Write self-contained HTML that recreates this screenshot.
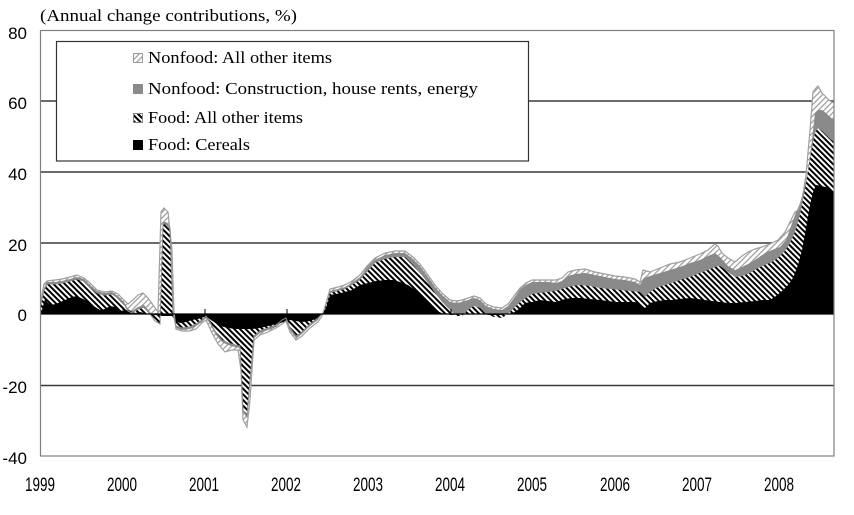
<!DOCTYPE html>
<html>
<head>
<meta charset="utf-8">
<style>
html,body{margin:0;padding:0;background:#fff;}
svg{display:block;}
</style>
</head>
<body>
<svg width="854" height="515" viewBox="0 0 854 515" xmlns="http://www.w3.org/2000/svg">
<defs>
<pattern id="dh" patternUnits="userSpaceOnUse" width="4" height="4" patternTransform="rotate(-45)">
<rect width="4" height="4" fill="#fff"/><rect width="2" height="4" fill="#000"/>
</pattern>
<pattern id="lh" patternUnits="userSpaceOnUse" width="4" height="4" patternTransform="rotate(45)">
<rect width="4" height="4" fill="#fff"/><rect width="1.2" height="4" fill="#9a9a9a"/>
</pattern>
</defs>
<rect width="854" height="515" fill="#fff"/>

<!-- title -->
<text x="40" y="21" font-family="Liberation Serif, serif" font-size="17" textLength="257" lengthAdjust="spacingAndGlyphs" fill="#000">(Annual change contributions, %)</text>

<!-- gridlines -->
<g stroke="#3a3a3a" stroke-width="1.6">
<line x1="40" y1="101" x2="834" y2="101"/>
<line x1="40" y1="172" x2="834" y2="172"/>
<line x1="40" y1="243" x2="834" y2="243"/>
<line x1="40" y1="385.5" x2="834" y2="385.5"/>
</g>

<!-- B4 light hatch: Nonfood all other -->
<polygon fill="url(#lh)" points="41,300 44,284 47,281 55,280 62,279 70,277 77,275 84,278 90,283 97,290 104,292 112,291 118,294 124,300 128,304 133,300 138,295 143,293 148,298 153,305 158,312 161,212 164,208 168,212 172,250 174,312 176,329 182,331 190,331 196,329 202,323 206,320 212,333 218,344 225,352 232,350 238,350 241,370 243,420 247,427 250,400 254,340 260,335 268,332 276,328 282,324 286,321 290,332 296,340 302,336 310,328 318,322 322,316 326,303 330,289 338,287 345,285 352,281 360,275 367,266 375,258 385,253 395,251 405,251 413,257 420,264 428,275 435,285 442,293 450,300 456,301 462,300 468,298 474,296 480,298 486,304 494,307 502,308 508,304 514,296 520,288 526,283 532,280 540,280 548,280 556,280 562,278 568,272 575,270 585,269 595,272 605,274 615,276 625,277 635,279 640,282 643,270 650,272 660,268 670,264 680,262 690,258 700,254 708,250 715,244 718,246 722,253 728,258 735,262 742,256 748,252 755,249 762,247 770,244 778,240 785,232 790,222 795,212 798,210 802,200 806,175 810,130 813,92 816,88 818,86 822,93 826,97 830,101 834,103 834,314 41,314"/>

<!-- B3 grey: Nonfood construction -->
<polygon fill="#8a8a8a" points="41,302 44,288 47,282 55,282 62,281 70,279 77,277 84,279 90,285 97,291 104,293 112,292 118,296 124,302 128,309 132,311 138,307 144,305 150,312 155,319 160,322 163,222 166,222 170,226 173,312 176,328 182,330 190,329 196,326 202,322 206,318 210,324 216,335 222,342 228,345 235,347 240,348 243,412 247,418 250,382 254,338 260,333 268,330 276,327 282,322 286,320 290,330 296,338 302,334 310,326 318,320 322,314 326,304 330,291 338,289 345,287 352,283 360,277 367,268 375,260 385,255 395,253 405,253 413,259 420,266 428,277 435,287 442,295 450,302 456,303 462,302 468,300 474,298 480,300 486,306 494,309 502,310 508,306 514,298 520,290 526,285 532,282 540,282 548,282 556,283 562,281 568,276 575,274 585,273 595,275 605,277 615,279 625,280 635,282 640,285 644,278 650,276 660,273 670,270 680,267 690,263 700,260 708,256 715,253 720,257 728,266 735,270 742,267 750,263 758,258 765,253 772,250 780,247 786,240 790,229 795,215 800,203 805,185 808,170 812,140 815,113 818,110 822,110 826,113 830,117 834,120 834,314 41,314"/>

<!-- B2 dark hatch: Food all other -->
<polygon fill="url(#dh)" points="41,304 44,290 47,284 55,284 62,283 70,281 77,279 84,281 90,287 97,293 104,295 112,294 118,298 124,304 128,311 132,313 138,309 144,307 150,314 155,321 160,324 163,224 166,224 170,228 173,314 176,326 182,328 190,327 196,324 202,320 206,316 210,322 216,333 222,340 228,343 235,345 240,346 243,410 247,416 250,380 254,336 260,331 268,328 276,325 282,320 286,318 290,328 296,336 302,332 310,324 318,318 322,314 326,306 330,293 338,291 345,289 352,285 360,280 367,272 375,263 385,259 395,257 405,257 413,265 420,273 428,283 435,293 442,302 450,310 456,316 462,316 468,310 474,306 480,308 486,314 494,317 502,318 508,314 514,308 520,302 526,298 532,294 540,293 548,292 556,291 565,288 572,286 580,285 590,286 600,288 610,289 620,290 630,291 640,292 645,297 650,292 656,288 665,285 672,283 680,280 690,277 700,273 708,270 715,267 720,266 728,272 735,277 742,276 750,273 758,268 765,265 772,262 778,258 785,251 790,243 795,232 800,215 805,190 808,172 812,148 815,133 818,128 822,131 826,135 830,139 834,142 834,314 41,314"/>

<!-- B1 black: Food cereals -->
<polygon fill="#000" points="41,314 43,306 45,299 48,303 52,305 58,303 65,300 72,297 77,296 85,300 92,305 100,310 105,309 110,306 115,307 122,311 128,310 135,313 140,312 148,314 155,315 162,316 168,316 172,316 176,321 180,323 186,322 192,320 198,319 204,317 208,318 214,322 220,326 228,328 236,329 244,329 252,329 260,328 268,326 276,324 284,322 290,320 296,321 302,322 310,321 318,318 322,314 326,308 330,295 336,294 345,292 352,290 360,285 368,283 376,281 385,280 393,280 400,282 408,285 415,290 422,296 430,305 437,311 444,314 452,315 460,314 470,314 480,314 490,315 500,315 508,314 515,312 520,308 525,303 532,302 540,300 548,301 556,302 565,299 572,298 580,298 590,299 600,300 608,301 615,302 625,302 635,302 640,304 645,308 650,303 658,301 665,300 672,300 680,299 690,298 698,299 705,300 712,301 720,302 728,303 735,303 745,302 755,301 763,300 770,300 776,296 782,291 788,285 793,278 798,265 802,250 806,228 810,205 813,192 816,185 821,186 826,187 830,190 834,192 834,314 41,314"/>

<!-- outlines -->
<polyline fill="none" stroke="#a0a0a0" stroke-width="1.2" points="41,300 44,284 47,281 55,280 62,279 70,277 77,275 84,278 90,283 97,290 104,292 112,291 118,294 124,300 128,304 133,300 138,295 143,293 148,298 153,305 158,312 161,212 164,208 168,212 172,250 174,312 176,329 182,331 190,331 196,329 202,323 206,320 212,333 218,344 225,352 232,350 238,350 241,370 243,420 247,427 250,400 254,340 260,335 268,332 276,328 282,324 286,321 290,332 296,340 302,336 310,328 318,322 322,316 326,303 330,289 338,287 345,285 352,281 360,275 367,266 375,258 385,253 395,251 405,251 413,257 420,264 428,275 435,285 442,293 450,300 456,301 462,300 468,298 474,296 480,298 486,304 494,307 502,308 508,304 514,296 520,288 526,283 532,280 540,280 548,280 556,280 562,278 568,272 575,270 585,269 595,272 605,274 615,276 625,277 635,279 640,282 643,270 650,272 660,268 670,264 680,262 690,258 700,254 708,250 715,244 718,246 722,253 728,258 735,262 742,256 748,252 755,249 762,247 770,244 778,240 785,232 790,222 795,212 798,210 802,200 806,175 810,130 813,92 816,88 818,86 822,93 826,97 830,101 834,103"/>
<polyline fill="none" stroke="#8a8a8a" stroke-width="1" points="41,304 44,290 47,284 55,284 62,283 70,281 77,279 84,281 90,287 97,293 104,295 112,294 118,298 124,304 128,311 132,313 138,309 144,307 150,314 155,321 160,324 163,224 166,224 170,228 173,314 176,326 182,328 190,327 196,324 202,320 206,316 210,322 216,333 222,340 228,343 235,345 240,346 243,410 247,416 250,380 254,336 260,331 268,328 276,325 282,320 286,318 290,328 296,336 302,332 310,324 318,318 322,314"/>

<!-- zero line & ticks -->
<line x1="40" y1="314" x2="834" y2="314" stroke="#000" stroke-width="1.2"/>
<g stroke="#000" stroke-width="1">
<line x1="123" y1="309" x2="123" y2="314"/>
<line x1="205" y1="309" x2="205" y2="314"/>
<line x1="287" y1="309" x2="287" y2="314"/>
<line x1="369" y1="309" x2="369" y2="314"/>
<line x1="451" y1="309" x2="451" y2="314"/>
<line x1="533" y1="309" x2="533" y2="314"/>
<line x1="615" y1="309" x2="615" y2="314"/>
<line x1="697" y1="309" x2="697" y2="314"/>
<line x1="779" y1="309" x2="779" y2="314"/>
</g>

<!-- plot border -->
<rect x="40.5" y="30.5" width="793.5" height="425.5" fill="none" stroke="#808080" stroke-width="1.2"/>

<!-- legend -->
<rect x="56.5" y="41.5" width="472" height="119.5" fill="#fff" stroke="#333" stroke-width="1.2"/>
<rect x="133.5" y="53.5" width="9" height="9" fill="url(#lh)" stroke="#999" stroke-width="1"/>
<rect x="133" y="84" width="10" height="10" fill="#8a8a8a"/>
<rect x="133.5" y="113.5" width="9" height="9" fill="url(#dh)" stroke="#888" stroke-width="1"/>
<rect x="133" y="140" width="10" height="10" fill="#000"/>
<g font-family="Liberation Serif, serif" font-size="17" fill="#000">
<text x="148" y="63" textLength="184" lengthAdjust="spacingAndGlyphs">Nonfood: All other items</text>
<text x="148" y="94" textLength="330" lengthAdjust="spacingAndGlyphs">Nonfood: Construction, house rents, energy</text>
<text x="148" y="123" textLength="155" lengthAdjust="spacingAndGlyphs">Food: All other items</text>
<text x="148" y="150" textLength="102" lengthAdjust="spacingAndGlyphs">Food: Cereals</text>
</g>

<!-- y labels -->
<g font-family="Liberation Sans, sans-serif" font-size="17" fill="#000" text-anchor="end">
<text x="27" y="39">80</text>
<text x="27" y="109">60</text>
<text x="27" y="180">40</text>
<text x="27" y="251">20</text>
<text x="27" y="321">0</text>
<text x="27" y="393">-20</text>
<text x="27" y="464">-40</text>
</g>

<!-- x labels -->
<g font-family="Liberation Sans, sans-serif" font-size="19" fill="#000">
<text x="25" y="491" textLength="30" lengthAdjust="spacingAndGlyphs">1999</text>
<text x="107" y="491" textLength="30" lengthAdjust="spacingAndGlyphs">2000</text>
<text x="189" y="491" textLength="30" lengthAdjust="spacingAndGlyphs">2001</text>
<text x="271" y="491" textLength="30" lengthAdjust="spacingAndGlyphs">2002</text>
<text x="353" y="491" textLength="30" lengthAdjust="spacingAndGlyphs">2003</text>
<text x="435" y="491" textLength="30" lengthAdjust="spacingAndGlyphs">2004</text>
<text x="517" y="491" textLength="30" lengthAdjust="spacingAndGlyphs">2005</text>
<text x="600" y="491" textLength="30" lengthAdjust="spacingAndGlyphs">2006</text>
<text x="682" y="491" textLength="30" lengthAdjust="spacingAndGlyphs">2007</text>
<text x="764" y="491" textLength="30" lengthAdjust="spacingAndGlyphs">2008</text>
</g>
</svg>
</body>
</html>
